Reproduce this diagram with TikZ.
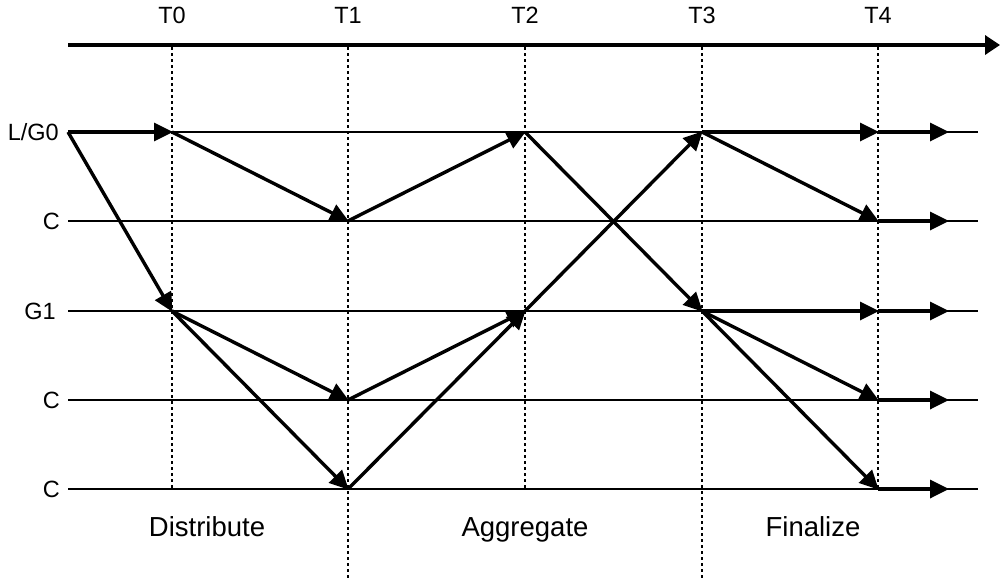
\documentclass[tikz,border=0pt]{standalone}
\usepackage{fontspec}
\setmainfont{Liberation Sans}
\usetikzlibrary{arrows.meta}
\begin{document}
\begin{tikzpicture}[x=1pt,y=-1pt,
  axisline/.style={line width=3.5pt,-{Triangle[length=15pt,width=19pt]}},
  timeline/.style={line width=1.6pt,dash pattern=on 3pt off 3pt},
  rowline/.style={line width=1.5pt},
  msg/.style={line width=3.4pt,-{Triangle[length=19pt,width=18pt]},shorten >=-1pt},
  tlabel/.style={font=\fontsize{23.5}{28}\selectfont,anchor=base,inner sep=0pt},
  rlabel/.style={font=\fontsize{23.5}{28}\selectfont,anchor=base east,inner sep=0pt},
  plabel/.style={font=\fontsize{27.5}{32}\selectfont,anchor=base,inner sep=0pt}]
\useasboundingbox (0,0) rectangle (1000,581);
% grid coordinates
\foreach \r/\y in {0/132,1/221,2/311,3/400,4/489}{
  \coordinate (s\r) at (68,\y);
  \coordinate (e\r) at (978,\y);
  \coordinate (o\r) at (948,\y);
  \foreach \c/\x in {0/172,1/348,2/525,3/702,4/878}{
    \coordinate (p\r\c) at (\x,\y);
  }
}
% time axis
\coordinate (ax0) at (68,45);
\coordinate (ax1) at (1000,45);
\draw[axisline] (ax0) -- (ax1);
% time labels and dotted lines
\foreach \c/\x/\b in {0/172/489,1/348/578,2/525/489,3/702/578,4/878/489}{
  \node[tlabel] (T\c) at (\x,23) {T\c};
  \coordinate (vt\c) at (\x,47);
  \coordinate (vb\c) at (\x,\b);
  \draw[timeline] (vt\c) -- (vb\c);
}
% row lines
\foreach \r in {0,...,4}{ \draw[rowline] (s\r) -- (e\r); }
% row labels
\node[rlabel] (l0) at (59,140.5) {L/G0};
\node[rlabel] (l1) at (60,229.5) {C};
\node[rlabel] (l2) at (56,319.5) {G1};
\node[rlabel] (l3) at (60,408.5) {C};
\node[rlabel] (l4) at (60,497.5) {C};
% messages
\draw[msg] (s0) -- (p00);
\draw[msg] (s0) -- (p20);
\draw[msg] (p00) -- (p11);
\draw[msg] (p20) -- (p31);
\draw[msg] (p20) -- (p41);
\draw[msg] (p11) -- (p02);
\draw[msg] (p31) -- (p22);
\draw[msg] (p41) -- (p22);
\draw[msg] (p02) -- (p23);
\draw[msg] (p22) -- (p03);
\draw[msg] (p03) -- (p04);
\draw[msg] (p03) -- (p14);
\draw[msg] (p23) -- (p24);
\draw[msg] (p23) -- (p34);
\draw[msg] (p23) -- (p44);
\foreach \r in {0,...,4}{ \draw[msg] (p\r4) -- (o\r); }
% phase labels
\node[plabel] (d) at (207,536) {Distribute};
\node[plabel] (a) at (525,536) {Aggregate};
\node[plabel] (f) at (813,536) {Finalize};
\end{tikzpicture}
\end{document}
